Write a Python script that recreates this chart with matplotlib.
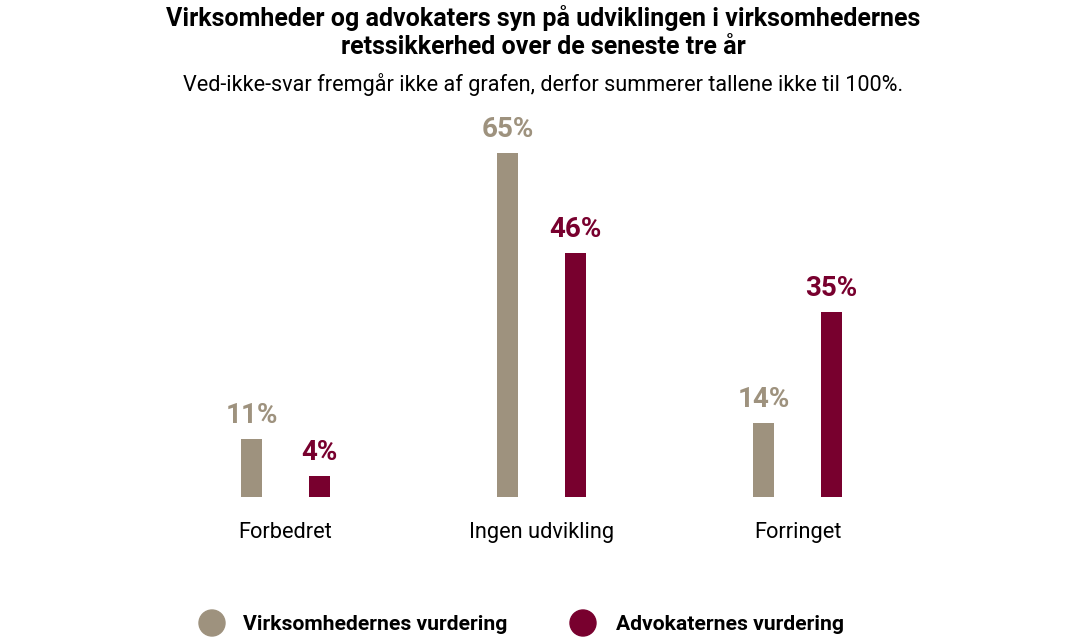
import matplotlib
matplotlib.use("Agg")
import matplotlib.pyplot as plt

plt.rcParams['font.family'] = ['Roboto', 'DejaVu Sans']

categories = ["Forbedret", "Ingen udvikling", "Forringet"]
series_names = ["Virksomhedernes vurdering", "Advokaternes vurdering"]
virksomheder = [11, 65, 14]
advokater = [4, 46, 35]
colors = ["#9E927E", "#78002E"]

title = "Virksomheder og advokaters syn på udviklingen i virksomhedernes\nretssikkerhed over de seneste tre år"
subtitle = "Ved-ikke-svar fremgår ikke af grafen, derfor summerer tallene ikke til 100%."

W, H = 1079, 641
fig = plt.figure(figsize=(W / 100, H / 100), dpi=100)
ax = fig.add_axes([29.5 / W, 144 / H, 1024 / W, 371 / H])
ax.set_xlim(-1, 3)
ax.set_ylim(0, 70)
ax.axis("off")

bw = 21 / 256
off = 34 / 256
xs = list(range(len(categories)))
for vals, col, sign in [(virksomheder, colors[0], -1), (advokater, colors[1], 1)]:
    pos = [x + sign * off for x in xs]
    ax.bar(pos, vals, width=bw, color=col)
    for p, v in zip(pos, vals):
        ax.annotate(f"{v}%", (p, v), xytext=(0, 7), textcoords="offset points",
                    ha="center", va="bottom", fontsize=20, fontweight="bold", color=col)
for x, c in zip(xs, categories):
    ax.annotate(c, (x, 0), xytext=(0, -18), textcoords="offset points",
                ha="center", va="top", fontsize=15.7, color="black")

fig.text(543 / W, 1 - 32 / H, title, ha="center", va="center", fontsize=18,
         fontweight="bold", linespacing=1.2)
fig.text(543 / W, 1 - 84 / H, subtitle, ha="center", va="center", fontsize=15.6)

# legend
for (lx, tx), name, col in zip([(212, 243), (583, 616)], series_names, colors):
    fig.patches.append(matplotlib.patches.Ellipse((lx / W, 1 - 623 / H), 26 / W, 26 / H,
                                                  transform=fig.transFigure, color=col))
    fig.text(tx / W, 1 - 625 / H, name, ha="left", va="center", fontsize=15.2, fontweight="bold")

fig.savefig("out.png", dpi=100)
